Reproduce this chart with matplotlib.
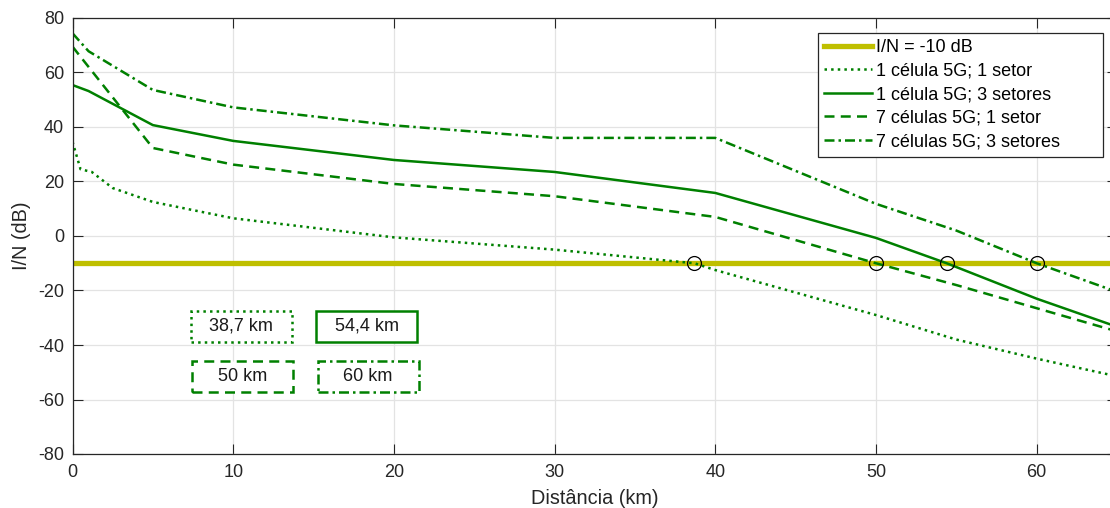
import numpy as np
import matplotlib
matplotlib.use("Agg")
import matplotlib.pyplot as plt
from matplotlib.patches import Rectangle

plt.rcParams['font.family'] = ['Liberation Sans', 'DejaVu Sans']
plt.rcParams['axes.unicode_minus'] = False

# dados
x_1c1s = [0, 0.5, 1.2, 2.5, 5, 10, 20, 30, 38.7, 40, 50, 55, 60, 65]
y_1c1s = [34.6, 24.5, 23.5, 17.6, 12.5, 6.5, -0.5, -5, -10, -12.5, -29, -38, -45, -51.5]

x_1c3s = [0, 1, 5, 10, 20, 30, 40, 50, 54.4, 60, 65]
y_1c3s = [55.4, 53.2, 40.7, 34.9, 27.9, 23.5, 15.8, -0.7, -10, -23, -33.3]

x_7c1s = [0, 5, 10, 20, 30, 40, 50, 55, 60, 65]
y_7c1s = [69.5, 32.3, 26.2, 19.1, 14.6, 7, -10, -18, -26.5, -35]

x_7c3s = [0, 1, 5, 10, 20, 30, 40, 50, 55, 60, 65]
y_7c3s = [74.4, 67.8, 53.6, 47.2, 40.6, 36, 36, 11.8, 2, -10, -20.5]

limiar = -10
cruzamentos = [38.7, 50, 54.4, 60]
rotulos = ["38,7 km", "54,4 km", "50 km", "60 km"]
estilos = [":", "-", (0, (4, 2.5)), (0, (4, 1.6, 1, 1.6))]
pos_rotulos = [(10.5, -33.2), (18.3, -33.2), (10.6, -51.4), (18.4, -51.4)]

verde = "#008000"
amarelo = "#bfbf00"

fig = plt.figure(figsize=(11.10, 5.08), dpi=100)
ax = fig.add_axes([72.5 / 1110, 1 - 454 / 508, (1117 - 72.5) / 1110, (454 - 18) / 508])

ax.plot([0, 65], [limiar, limiar], color=amarelo, lw=3.8, label="I/N = -10 dB")
ax.plot(x_1c1s, y_1c1s, color=verde, lw=1.8, ls=":", label="1 célula 5G; 1 setor")
ax.plot(x_1c3s, y_1c3s, color=verde, lw=1.8, ls="-", label="1 célula 5G; 3 setores")
ax.plot(x_7c1s, y_7c1s, color=verde, lw=1.8, ls=(0, (4, 2.5)), label="7 células 5G; 1 setor")
ax.plot(x_7c3s, y_7c3s, color=verde, lw=1.8, ls=(0, (4, 1.6, 1, 1.6)), label="7 células 5G; 3 setores")

ax.plot(cruzamentos, [limiar] * len(cruzamentos), "o", mfc="none", mec="black", ms=10, mew=0.9)

# caixas com as distâncias
w, h = 6.3, 11.4
for (cx, cy), txt, est in zip(pos_rotulos, rotulos, estilos):
    ax.add_patch(Rectangle((cx - w / 2, cy - h / 2), w, h, fill=True, fc="white",
                           ec=verde, lw=1.8, ls=est, zorder=5))
    ax.text(cx, cy, txt, ha="center", va="center", fontsize=13, color="#1a1a1a", zorder=6)

ax.set_xlim(0, 65)
ax.set_ylim(-80, 80)
ax.set_xticks(range(0, 61, 10))
ax.set_yticks(range(-80, 81, 20))
ax.grid(True, color="#e3e3e3", lw=0.9)
ax.set_axisbelow(True)
ax.tick_params(direction="in", top=True, right=True, labelsize=13, colors="#262626", length=7)
ax.tick_params(axis="x", pad=7)
ax.tick_params(axis="y", pad=6)
for s in ax.spines.values():
    s.set_color("#262626")
    s.set_linewidth(0.9)

ax.set_xlabel("Distância (km)", fontsize=14.3, color="#262626", labelpad=6)
ax.set_ylabel("I/N (dB)", fontsize=14.3, color="#262626", labelpad=5)

leg = ax.legend(loc="upper left", bbox_to_anchor=(818 / 1110, 1 - 150 / 508, 285 / 1110, 117 / 508),
                bbox_transform=fig.transFigure, mode="expand", borderaxespad=0, fontsize=13,
                handlelength=2.65, handletextpad=0.2, labelspacing=0.36,
                borderpad=0.35, fancybox=False, framealpha=1, edgecolor="#262626")
leg.get_frame().set_linewidth(0.9)

fig.savefig("out.png", dpi=100)
